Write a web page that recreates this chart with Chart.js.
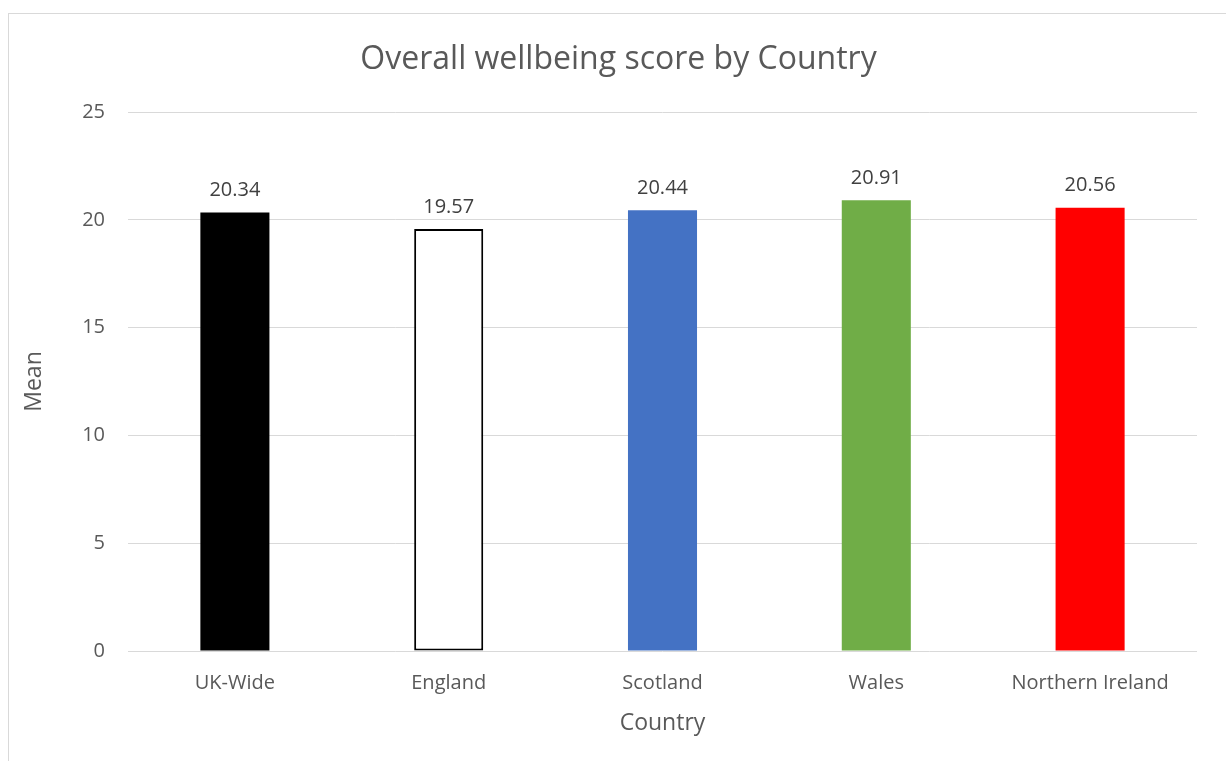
<!DOCTYPE html>
<html>
<head>
<meta charset="utf-8">
<script src="https://cdn.jsdelivr.net/npm/chart.js@4"></script>
<style>
  body { margin: 0; background: #fff; overflow: hidden; }
  #frame {
    position: absolute; left: 8px; top: 13px; width: 1300px; height: 800px;
    border: 1px solid #d9d9d9;
  }
  #wrap { position: absolute; left: 0; top: 0; width: 1226px; height: 761px; }
</style>
</head>
<body>
<div id="frame"></div>
<div id="wrap"><canvas id="BarChart" width="1226" height="761"></canvas></div>
<script>
const countries = ["UK-Wide", "England", "Scotland", "Wales", "Northern Ireland"];
const means = [20.34, 19.57, 20.44, 20.91, 20.56];
const yTicks = [0, 5, 10, 15, 20, 25];

const barColors = ["#000000", "#ffffff", "#4472c4", "#70ad47", "#ff0000"];
const barBorders = ["#000000", "#000000", "#4472c4", "#70ad47", "#ff0000"];
const borderWidths = [0, 2, 0, 0, 0];

const textColor = "#595959";
const fontFamily = "'Open Sans', sans-serif";

// labels above each bar
const valueLabels = {
  id: "valueLabels",
  afterDatasetsDraw(chart) {
    const ctx = chart.ctx;
    const meta = chart.getDatasetMeta(0);
    ctx.save();
    ctx.fillStyle = "#404040";
    ctx.font = "20px " + fontFamily;
    ctx.textAlign = "center";
    ctx.textBaseline = "bottom";
    meta.data.forEach(function (bar, i) {
      ctx.fillText(means[i].toFixed(2), bar.x, bar.y - 12);
    });
    ctx.restore();
  },
};

const ctx = document.getElementById("BarChart");
new Chart(ctx, {
  type: "bar",
  data: {
    labels: countries,
    datasets: [
      {
        label: "Mean",
        data: means,
        backgroundColor: barColors,
        borderColor: barBorders,
        borderWidth: borderWidths,
        borderSkipped: false,
        categoryPercentage: 1,
        barPercentage: 0.323,
      },
    ],
  },
  options: {
    responsive: false,
    animation: false,
    layout: { padding: { left: 40, right: 29, top: 0, bottom: 0 } },
    plugins: {
      legend: { display: false },
      tooltip: { enabled: false },
      title: {
        display: true,
        text: "Overall wellbeing score by Country",
        color: textColor,
        font: { family: fontFamily, size: 32, weight: "normal" },
        padding: { top: 41, bottom: 32.6 },
      },
    },
    scales: {
      y: {
        min: 0,
        max: 25,
        afterBuildTicks: function (scale) {
          scale.ticks = yTicks.map(function (v) { return { value: v }; });
        },
        afterFit: function (scale) { scale.width = 88; },
        border: { display: false },
        grid: { color: "#d9d9d9", lineWidth: 1, drawTicks: false },
        ticks: {
          color: textColor,
          padding: 23,
          font: { family: fontFamily, size: 20 },
        },
        title: {
          display: true,
          text: "Mean",
          color: textColor,
          font: { family: fontFamily, size: 23 },
          padding: { top: -19, bottom: 0 },
        },
      },
      x: {
        afterFit: function (scale) { scale.height = 110; },
        border: { display: false },
        grid: { display: false, drawTicks: false },
        ticks: {
          color: textColor,
          padding: 20,
          font: { family: fontFamily, size: 20 },
        },
        title: {
          display: true,
          text: "Country",
          color: textColor,
          font: { family: fontFamily, size: 23 },
          padding: { top: 10, bottom: 24 },
        },
      },
    },
  },
  plugins: [valueLabels],
});
</script>
</body>
</html>
